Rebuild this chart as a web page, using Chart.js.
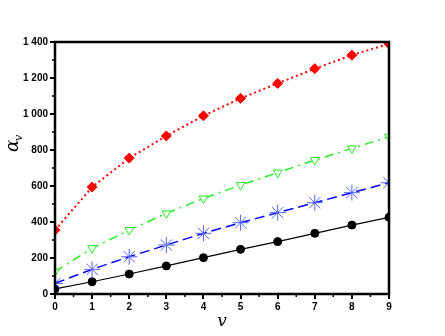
<!DOCTYPE html>
<html>
<head>
<meta charset="utf-8">
<script src="https://cdn.jsdelivr.net/npm/chart.js@4.4.0/dist/chart.umd.min.js"></script>
<style>
  html, body { margin: 0; padding: 0; background: #fff; }
  #wrap { width: 445px; height: 336px; }
</style>
</head>
<body>
<div id="wrap"><canvas id="alphaChart"></canvas></div>
<script>
// values
const vValues = [0, 1, 2, 3, 4, 5, 6, 7, 8, 9];
const redSeries = [355, 594, 755, 878, 990, 1087, 1170, 1252, 1327, 1390];
const greenSeries = [124, 254, 355, 448, 531, 605, 674, 744, 809, 874];
const blueSeries = [59, 137, 207, 272, 337, 396, 452, 507, 563, 618];
const blackSeries = [28, 68, 111, 156, 202, 248, 291, 337, 383, 426];
const yTicks = [0, 200, 400, 600, 800, 1000, 1200, 1400];

function toPoints(arr) {
    return arr.map((y, i) => ({ x: vValues[i], y: y }));
}

// frame + minor ticks + y title
const framePlugin = {
    id: 'frame',
    afterDraw(chart) {
        const { ctx, chartArea: a, scales } = chart;
        ctx.save();
        ctx.strokeStyle = '#000';
        ctx.lineWidth = 1.5;
        // minor ticks
        ctx.beginPath();
        for (let v = 100; v < 1400; v += 200) {
            const y = scales.y.getPixelForValue(v);
            ctx.moveTo(a.left - 3, y);
            ctx.lineTo(a.left, y);
        }
        for (let v = 0.5; v < 9; v += 1) {
            const x = scales.x.getPixelForValue(v);
            ctx.moveTo(x, a.bottom);
            ctx.lineTo(x, a.bottom + 3);
        }
        ctx.stroke();
        // box
        ctx.lineWidth = 2.5;
        ctx.strokeRect(a.left, a.top, a.right - a.left, a.bottom - a.top);
        // y title
        ctx.translate(18, 152);
        ctx.rotate(-Math.PI / 2);
        ctx.fillStyle = '#000';
        ctx.textBaseline = 'alphabetic';
        ctx.font = 'italic 18px "DejaVu Serif", serif';
        ctx.fillText('\u03b1', 0, 0);
        ctx.font = 'italic 11px "DejaVu Serif", serif';
        ctx.fillText('v', 11, 4);
        ctx.restore();
    }
};

const ctx = document.getElementById('alphaChart').getContext('2d');
new Chart(ctx, {
    type: 'line',
    data: {
        datasets: [
            {
                data: toPoints(redSeries),
                borderColor: '#ff0000',
                backgroundColor: '#ff0000',
                borderWidth: 2,
                borderDash: [2, 3],
                pointStyle: 'rectRot',
                pointRadius: 5,
                pointBorderWidth: 1
            },
            {
                data: toPoints(greenSeries),
                borderColor: '#22ee22',
                backgroundColor: '#ffffff',
                borderWidth: 1.5,
                borderDash: [9, 5, 2, 5],
                pointStyle: 'triangle',
                pointRotation: 180,
                pointRadius: 5,
                pointBorderWidth: 1
            },
            {
                data: toPoints(blueSeries),
                borderColor: '#0000ff',
                pointBorderColor: '#5566ff',
                backgroundColor: '#5566ff',
                borderWidth: 1.5,
                borderDash: [10, 5],
                pointStyle: 'star',
                pointRadius: 8,
                pointBorderWidth: 1
            },
            {
                data: toPoints(blackSeries),
                borderColor: '#000000',
                backgroundColor: '#000000',
                borderWidth: 1.2,
                pointStyle: 'circle',
                pointRadius: 4,
                pointBorderWidth: 1
            }
        ]
    },
    options: {
        responsive: true,
        maintainAspectRatio: false,
        animation: false,
        layout: { padding: { top: 42, right: 56, left: 0, bottom: 0 } },
        plugins: {
            legend: { display: false },
            tooltip: { enabled: false }
        },
        elements: { line: { tension: 0 } },
        scales: {
            x: {
                type: 'linear',
                min: 0,
                max: 9,
                afterFit(scale) { scale.height = 42; },
                afterBuildTicks(scale) { scale.ticks = vValues.map(v => ({ value: v })); },
                grid: { drawOnChartArea: false, tickLength: 5, lineWidth: 2, color: '#000' },
                border: { display: false },
                ticks: {
                    color: '#000',
                    padding: 2,
                    font: { family: 'Arial, "Liberation Sans"', size: 10, weight: 'bold' }
                },
                title: {
                    display: true,
                    text: 'v',
                    color: '#000',
                    padding: { top: 4 },
                    font: { family: '"DejaVu Serif", serif', size: 17, style: 'italic' }
                }
            },
            y: {
                type: 'linear',
                min: 0,
                max: 1400,
                afterFit(scale) { scale.width = 55; },
                afterBuildTicks(scale) { scale.ticks = yTicks.map(v => ({ value: v })); },
                grid: { drawOnChartArea: false, tickLength: 5, lineWidth: 2, color: '#000' },
                border: { display: false },
                ticks: {
                    color: '#000',
                    padding: 2,
                    font: { family: 'Arial, "Liberation Sans"', size: 10, weight: 'bold' },
                    callback: v => String(v).replace(/\B(?=(\d{3})+(?!\d))/g, ' ')
                }
            }
        }
    },
    plugins: [framePlugin]
});
</script>
</body>
</html>
